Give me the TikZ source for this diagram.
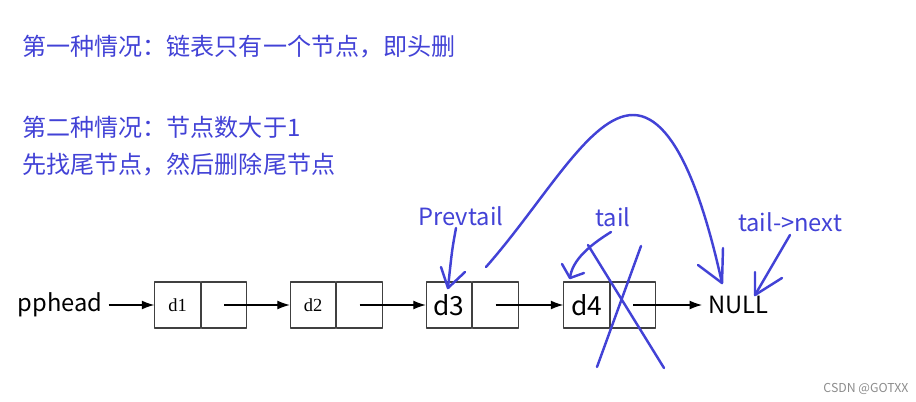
\documentclass[tikz,border=0pt]{standalone}
\usepackage{fontspec}
\setmainfont{Noto Sans CJK SC}
\newfontfamily\oldserif{Liberation Serif}
\usetikzlibrary{positioning,arrows.meta}
\definecolor{penblue}{RGB}{66,66,214}
\begin{document}
\begin{tikzpicture}[x=0.02cm, y=-0.02cm, line join=round, font=\fontsize{13.5}{16}\selectfont]
\tikzstyle{note} = [penblue, inner sep=0pt, anchor=west, font=\fontsize{13.7}{16}\selectfont]
\tikzstyle{cell} = [draw=black!75, line width=0.6pt, minimum width=0.91cm, minimum height=0.92cm, inner sep=0pt, font=\fontsize{15}{18}\selectfont]
\tikzstyle{link} = [draw, line width=0.6pt, -{Latex[length=7pt,width=5pt]}]
\tikzstyle{pen} = [draw=penblue, line width=1.4pt, line cap=round]
  \useasboundingbox (0,0) rectangle (916,402);
  \node[note] (case1) at (22,47) {第一种情况：链表只有一个节点，即头删};
  \node[note] (case2) at (22,127) {第二种情况：节点数大于1};
  \node[note] (case3) at (22,165) {先找尾节点，然后删除尾节点};
  % the list
  \foreach \i/\x/\lab in {1/177.5/{\oldserif\fontsize{10.5}{12}\selectfont d1},2/313/{\oldserif\fontsize{10.5}{12}\selectfont d2},3/449/d3,4/586.5/d4}{
    \node[cell] (d\i) at (\x,305) {\lab};
    \node[cell, right=0pt of d\i] (n\i) {};
  }
  \node (head) at (60,305) {pphead};
  \node[anchor=west] (null) at (702,305) {NULL};
  \draw[link] (head) -- (d1);
  \foreach \i/\j in {1/2,2/3,3/4}{
    \draw[link] (n\i.center) -- (d\j.west);
  }
  \draw[link] (n4.center) -- (null.west);
  % hand drawn notes
  \node[penblue] (prev) at (461,216) {Prevtail};
  \node[penblue] (tailtxt) at (613,217) {tail};
  \node[penblue] (nexttxt) at (790,222) {tail->next};
  \coordinate (ptop) at (456,228);
  \coordinate (ptip) at (448,288);
  \draw[pen] (ptop) .. controls (452,250) .. (ptip);
  \draw[pen] (441,267) -- (ptip) -- (465,272);
  \coordinate (ttop) at (611,232);
  \coordinate (ttip) at (570,278);
  \draw[pen] (ttop) .. controls (590,245) and (572,260) .. (ttip);
  \draw[pen] (562,264) -- (ttip) -- (584,273);
  \coordinate (ntop) at (790,235);
  \coordinate (ntip) at (755,295);
  \draw[pen] (ntop) -- (ntip);
  \draw[pen] (755,272) -- (ntip) -- (782,278);
  \coordinate (bstart) at (486,267);
  \coordinate (bpeak) at (633,115);
  \coordinate (btip) at (722,283);
  \draw[pen] (bstart) .. controls (545,200) and (590,115) .. (bpeak)
    .. controls (680,115) and (708,220) .. (btip);
  \draw[pen] (698,265) -- (btip) -- (723,248);
  \draw[pen] (588,245) -- (664,368);
  \draw[pen] (641,246) -- (597,367);
  \node[text=black!45, font=\fontsize{7}{8}\selectfont] (mark) at (866,389) {CSDN @GOTXX};
\end{tikzpicture}
\end{document}
